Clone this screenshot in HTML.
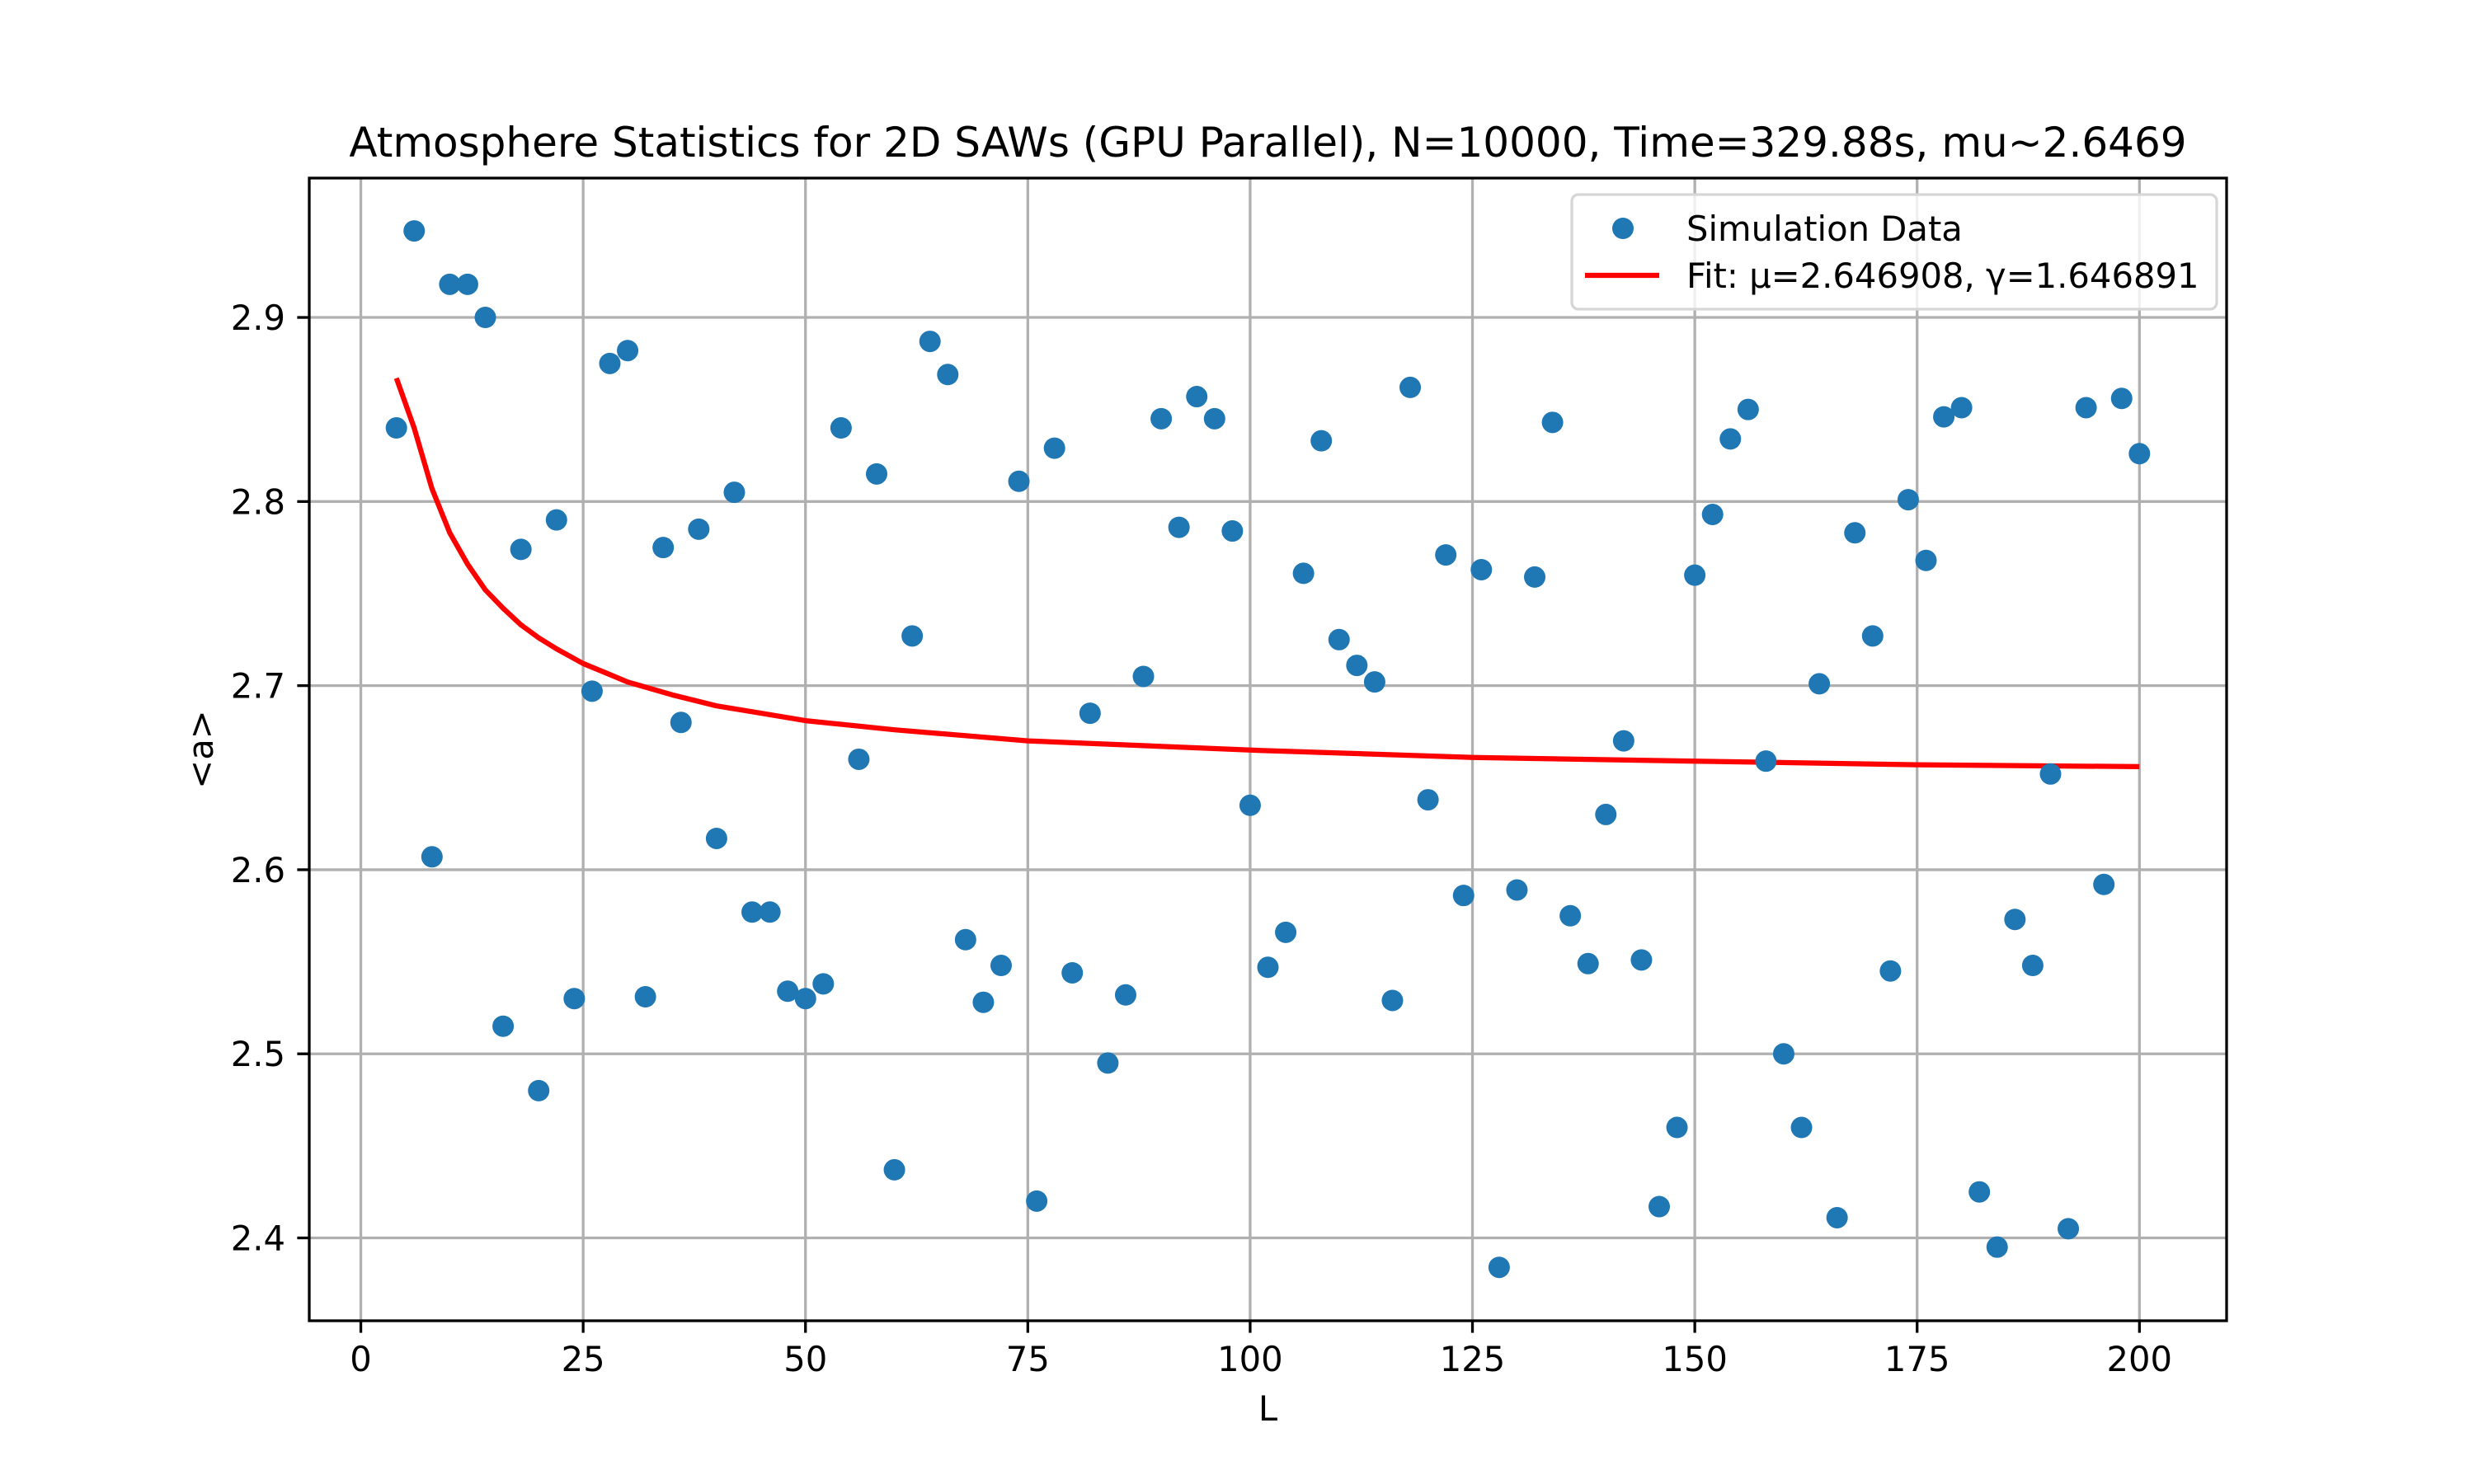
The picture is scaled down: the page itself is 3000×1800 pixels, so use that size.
<!DOCTYPE html>
<html><head><meta charset="utf-8"><style>
html,body{margin:0;padding:0;background:#fff;}
svg{display:block;font-family:"DejaVu Sans","Liberation Sans",sans-serif;}
</style></head><body>
<svg id="chart" width="3000" height="1800" viewBox="0 0 3000 1800" xmlns="http://www.w3.org/2000/svg">
<rect width="3000" height="1800" fill="#fff"/>
<text x="1537.5" y="190" font-size="50" text-anchor="middle">Atmosphere Statistics for 2D SAWs (GPU Parallel), N=10000, Time=329.88s, mu~2.6469</text>
<g id="grid"></g>
<g id="fit"></g>
<g id="pts"></g>
<rect x="375" y="216" width="2325" height="1386" fill="none" stroke="#000" stroke-width="3.3"/>
<g id="ticks"></g>
<text x="1537.5" y="1723" font-size="41.7" text-anchor="middle">L</text>
<text x="0" y="0" font-size="41.7" text-anchor="middle" transform="translate(258,909) rotate(-90)">&lt;a&gt;</text>
<g>
<rect x="1906" y="236" width="782" height="139" rx="8" fill="#fff" fill-opacity="0.8" stroke="#d6d6d6" stroke-width="3.3"/>
<circle cx="1968" cy="277" r="13" fill="#1f77b4"/>
<text x="2045" y="292" font-size="41.7">Simulation Data</text>
<line x1="1922" y1="334" x2="2012" y2="334" stroke="#ff0000" stroke-width="6.25"/>
<text x="2045" y="349" font-size="41.7">Fit: μ=2.646908, γ=1.646891</text>
</g>
</svg>
<script>
const xTicks = [0, 25, 50, 75, 100, 125, 150, 175, 200];
const yTicks = [2.4, 2.5, 2.6, 2.7, 2.8, 2.9];
const yTickLabels = ["2.4", "2.5", "2.6", "2.7", "2.8", "2.9"];
const Lvals = [4,6,8,10,12,14,16,18,20,22,24,26,28,30,32,34,36,38,40,42,44,46,48,50,52,54,56,58,60,62,64,66,68,70,72,74,76,78,80,82,84,86,88,90,92,94,96,98,100,102,104,106,108,110,112,114,116,118,120,122,124,126,128,130,132,134,136,138,140,142,144,146,148,150,152,154,156,158,160,162,164,166,168,170,172,174,176,178,180,182,184,186,188,190,192,194,196,198,200];
const aVals = [2.840,2.947,2.607,2.918,2.918,2.900,2.515,2.774,2.480,2.790,2.530,2.697,2.875,2.882,2.531,2.775,2.680,2.785,2.617,2.805,2.577,2.577,2.534,2.530,2.538,2.840,2.660,2.815,2.437,2.727,2.887,2.869,2.562,2.528,2.548,2.811,2.420,2.829,2.544,2.685,2.495,2.532,2.705,2.845,2.786,2.857,2.845,2.784,2.635,2.547,2.566,2.761,2.833,2.725,2.711,2.702,2.529,2.862,2.638,2.771,2.586,2.763,2.384,2.589,2.759,2.843,2.575,2.549,2.630,2.670,2.551,2.417,2.460,2.760,2.793,2.834,2.850,2.659,2.500,2.460,2.701,2.411,2.783,2.727,2.545,2.801,2.768,2.846,2.851,2.425,2.395,2.573,2.548,2.652,2.405,2.851,2.592,2.856,2.826];
const fitL = [4,6,8,10,12,14,16,18,20,22,25,28,30,35,40,45,50,60,75,100,125,150,175,200];
const fitA = [2.867,2.840,2.807,2.783,2.766,2.752,2.742,2.733,2.726,2.720,2.712,2.706,2.702,2.695,2.689,2.685,2.681,2.676,2.670,2.665,2.661,2.659,2.657,2.656];

const NS = "http://www.w3.org/2000/svg";
const X0 = 375, X1 = 2700, Y0 = 216, Y1 = 1602;
const xMin = -5.8, xMax = 209.8, yMin = 2.355, yMax = 2.9757;
function sx(v){ return X0 + (v - xMin) / (xMax - xMin) * (X1 - X0); }
function sy(v){ return Y1 - (v - yMin) / (yMax - yMin) * (Y1 - Y0); }
function mk(tag, attrs, parent){
  const e = document.createElementNS(NS, tag);
  for (const k in attrs) e.setAttribute(k, attrs[k]);
  parent.appendChild(e);
  return e;
}
const grid = document.getElementById('grid');
const ticks = document.getElementById('ticks');
xTicks.forEach(function(t){
  const gx = sx(t);
  const gl = mk('line', {x1: gx, x2: gx, y1: Y0, y2: Y1, stroke: '#b0b0b0', 'stroke-width': 3.3}, grid);
  
  
  const tk = mk('line', {x1: gx, x2: gx, y1: Y1, y2: Y1 + 14.6, stroke: '#000', 'stroke-width': 3.3}, ticks);
  
  
  const tl = mk('text', {x: gx, y: 1663, 'font-size': 41.7, 'text-anchor': 'middle'}, ticks);
  tl.textContent = String(t);
  
  
});
yTicks.forEach(function(t, i){
  const gy = sy(t);
  const gl = mk('line', {x1: X0, x2: X1, y1: gy, y2: gy, stroke: '#b0b0b0', 'stroke-width': 3.3}, grid);
  
  
  const tk = mk('line', {x1: X0 - 14.6, x2: X0, y1: gy, y2: gy, stroke: '#000', 'stroke-width': 3.3}, ticks);
  
  
  const tl = mk('text', {x: 346, y: gy + 15, 'font-size': 41.7, 'text-anchor': 'end'}, ticks);
  tl.textContent = yTickLabels[i];
  
  
});
const pts = document.getElementById('pts');
Lvals.forEach(function(L, i){
  const c = mk('circle', {cx: sx(L), cy: sy(aVals[i]), r: 13, fill: '#1f77b4'}, pts);
  
  
});
const fit = document.getElementById('fit');
const d = fitL.map(function(L, i){ return (i ? 'L' : 'M') + sx(L).toFixed(1) + ' ' + sy(fitA[i]).toFixed(1); }).join(' ');
const fl = mk('path', {d: d, fill: 'none', stroke: '#ff0000', 'stroke-width': 6.25, 'stroke-linejoin': 'round'}, fit);


</script>
</body></html>
